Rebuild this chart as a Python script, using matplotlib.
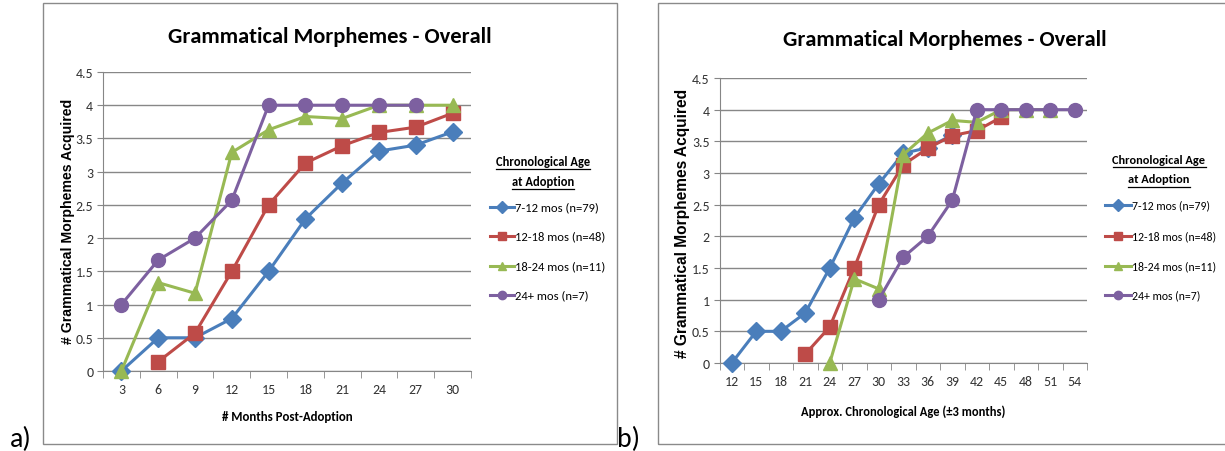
import numpy as np
import matplotlib.pyplot as plt
from matplotlib import font_manager
from matplotlib.lines import Line2D
from matplotlib.patches import Rectangle

# Calibri-like font if there is one, otherwise something narrow
names = set(f.name for f in font_manager.fontManager.ttflist)
NARROW = 'Liberation Sans'
for cand in ['Carlito', 'Liberation Sans Narrow', 'Open Sans Condensed', 'Archivo Narrow', 'Roboto Condensed']:
    if cand in names:
        NARROW = cand
        break

nan = np.nan

# ---- data ----
months_post = [3, 6, 9, 12, 15, 18, 21, 24, 27, 30]
post_7_12 = [0, 0.5, 0.5, 0.79, 1.5, 2.29, 2.83, 3.31, 3.4, 3.6]
post_12_18 = [nan, 0.14, 0.57, 1.5, 2.5, 3.13, 3.39, 3.59, 3.67, 3.88]
post_18_24 = [0, 1.33, 1.17, 3.29, 3.63, 3.83, 3.8, 4, 4, 4]
post_24p = [1, 1.67, 2, 2.57, 4, 4, 4, 4, 4, nan]

chron_age = [12, 15, 18, 21, 24, 27, 30, 33, 36, 39, 42, 45, 48, 51, 54]
age_7_12 = [0, 0.5, 0.5, 0.79, 1.5, 2.29, 2.83, 3.31, 3.4, 3.6, nan, nan, nan, nan, nan]
age_12_18 = [nan, nan, nan, 0.14, 0.57, 1.5, 2.5, 3.13, 3.39, 3.59, 3.67, 3.88, nan, nan, nan]
age_18_24 = [nan, nan, nan, nan, 0, 1.33, 1.17, 3.29, 3.63, 3.83, 3.8, 4, 4, 4, nan]
age_24p = [nan, nan, nan, nan, nan, nan, 1, 1.67, 2, 2.57, 4, 4, 4, 4, 4]

group_labels = ['7-12 mos (n=79)', '12-18 mos (n=48)', '18-24 mos (n=11)', '24+ mos (n=7)']
colors = ['#4A7EBB', '#BE4B48', '#98B954', '#7D60A0']
markers = ['D', 's', '^', 'o']
msizes = [9, 9.5, 9.5, 10]
yticks = [0, 0.5, 1, 1.5, 2, 2.5, 3, 3.5, 4, 4.5]
ytick_labels = ['0', '0.5', '1', '1.5', '2', '2.5', '3', '3.5', '4', '4.5']

title = 'Grammatical Morphemes - Overall'
ylab = '# Grammatical Morphemes Acquired'

W, H = 1225, 452
fig = plt.figure(figsize=(W / 100, H / 100), dpi=100)
fig.patch.set_facecolor('white')


def fx(px):
    return px / W


def fy(py):
    return 1 - py / H


def panel(box, area, cats, series, xlabel, title_xy, ylab_xy, ylab_fs, xlab_y, xlab_fs, leg):
    # chart frame
    fig.patches.append(Rectangle((fx(box[0]), fy(box[3])), fx(box[2] - box[0]), (box[3] - box[1]) / H,
                                 transform=fig.transFigure, fill=False, edgecolor='#8a8a8a', lw=1.0))
    l, t, r, b = area
    ax = fig.add_axes([fx(l), fy(b), fx(r - l), (b - t) / H])
    n = len(cats)
    x = np.arange(n)
    for vals, c, m, ms in zip(series, colors, markers, msizes):
        ax.plot(x, vals, color=c, lw=2.2, marker=m, ms=ms, mec=c, mfc=c, clip_on=False, zorder=3)
    ax.set_xlim(-0.5, n - 0.5)
    ax.set_ylim(0, 4.5)
    ax.set_yticks(yticks)
    ax.set_yticklabels(ytick_labels, family=NARROW, fontsize=10, color='#333333')
    ax.set_xticks(x)
    ax.set_xticklabels([str(c) for c in cats], family=NARROW, fontsize=10, color='#333333')
    ax.set_xticks(np.arange(-0.5, n, 1), minor=True)
    ax.tick_params(axis='x', which='major', length=0, pad=9)
    ax.tick_params(axis='x', which='minor', length=5, color='#868686', direction='out')
    ax.tick_params(axis='y', length=4, color='#868686', direction='out', pad=3)
    ax.grid(axis='y', color='#878787', lw=1.0)
    ax.set_axisbelow(True)
    for s in ['top', 'right']:
        ax.spines[s].set_visible(False)
    for s in ['left', 'bottom']:
        ax.spines[s].set_color('#868686')
    fig.text(fx(title_xy[0]), fy(title_xy[1]), title, ha='center', va='center',
             family=NARROW, fontsize=16.2, fontweight='bold')
    fig.text(fx(ylab_xy[0]), fy(ylab_xy[1]), ylab, ha='center', va='center', rotation=90,
             family='Liberation Sans', fontsize=ylab_fs, fontweight='bold')
    fig.text(fx((l + r) / 2), fy(xlab_y), xlabel, ha='center', va='center',
             family=NARROW, fontsize=xlab_fs, fontweight='bold')

    # legend title, underlined
    lx, ly1, ly2 = leg['title']
    rend = fig.canvas.get_renderer()
    for txt, yy in [('Chronological Age', ly1), ('at Adoption', ly2)]:
        tt = fig.text(fx(lx), fy(yy), txt, ha='center', va='center',
                      family=NARROW, fontsize=leg['tfs'], fontweight='bold')
        bb = tt.get_window_extent(renderer=rend)
        fig.add_artist(Line2D([bb.x0 / W, bb.x1 / W], [fy(yy + 8)] * 2, transform=fig.transFigure,
                              color='black', lw=0.9))
    # legend entries
    hx0, hx1 = leg['handle']
    for i, yy in enumerate(leg['rows']):
        fig.add_artist(Line2D([fx(hx0), fx(hx1)], [fy(yy)] * 2, transform=fig.transFigure,
                              color=colors[i], lw=2.2))
        fig.add_artist(Line2D([fx((hx0 + hx1) / 2)], [fy(yy)], transform=fig.transFigure,
                              color=colors[i], marker=markers[i], ms=6, mec=colors[i], mfc=colors[i]))
        fig.text(fx(hx1 + 1), fy(yy), group_labels[i], ha='left', va='center',
                 family=NARROW, fontsize=leg['fs'])
    return ax


panel(box=(43, 4, 617, 445), area=(103, 73, 471, 372), cats=months_post,
      series=[post_7_12, post_12_18, post_18_24, post_24p], xlabel='# Months Post-Adoption',
      title_xy=(330, 37), ylab_xy=(68, 221), ylab_fs=10.2, xlab_y=417, xlab_fs=9.3,
      leg={'title': (543, 162, 182), 'handle': (490, 514), 'rows': [208, 237, 267, 296],
           'tfs': 9, 'fs': 9.1})

panel(box=(658, 4, 1240, 445), area=(719.5, 79, 1087, 364), cats=chron_age,
      series=[age_7_12, age_12_18, age_18_24, age_24p], xlabel='Approx. Chronological Age (\u00b13 months)',
      title_xy=(945, 40), ylab_xy=(682, 223), ylab_fs=11.2, xlab_y=412, xlab_fs=9,
      leg={'title': (1159, 160, 180), 'handle': (1105, 1131), 'rows': [206, 237, 267, 296],
           'tfs': 8.9, 'fs': 8.5})

fig.text(fx(10), fy(447), 'a)', ha='left', va='baseline', family=NARROW, fontsize=20)
fig.text(fx(617), fy(447), 'b)', ha='left', va='baseline', family=NARROW, fontsize=20)

fig.savefig('out.png', dpi=100, facecolor='white')
